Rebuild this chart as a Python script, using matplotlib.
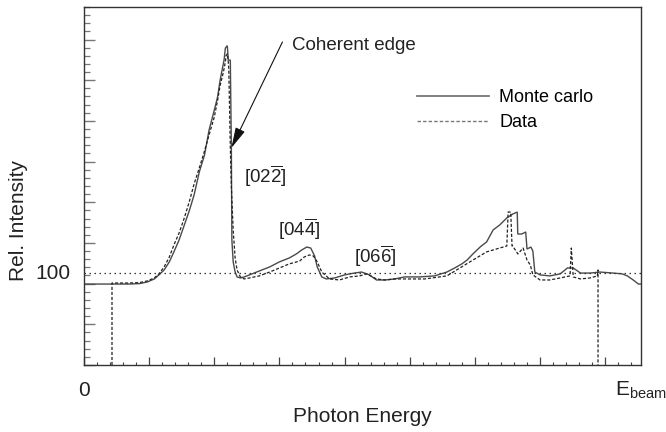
import matplotlib
matplotlib.use("Agg")
import matplotlib.pyplot as plt
from matplotlib.ticker import MultipleLocator
from matplotlib.lines import Line2D

plt.rcParams["font.family"] = ["Liberation Sans", "DejaVu Sans"]
plt.rcParams["mathtext.fontset"] = "custom"
plt.rcParams["mathtext.rm"] = "Liberation Sans"
plt.rcParams["mathtext.it"] = "Liberation Sans:italic"
plt.rcParams["mathtext.bf"] = "Liberation Sans:bold"

# photon energy in units of the major tick spacing, E_beam at the right edge
E_BEAM = 8.55

# Monte carlo (solid)
mc_x = [0.0, 0.43, 0.69, 0.85, 0.97, 1.08, 1.15, 1.23, 1.31, 1.38, 1.46, 1.54, 1.62,
        1.69, 1.77, 1.85, 1.92, 2.0, 2.05, 2.09, 2.12, 2.15, 2.17, 2.2, 2.215, 2.246,
        2.262, 2.27, 2.29, 2.32, 2.35, 2.4, 2.46, 2.54, 2.69, 2.85, 3.0, 3.15, 3.26,
        3.34, 3.42, 3.48, 3.54, 3.58, 3.65, 3.72, 3.85, 4.0, 4.15, 4.26, 4.38, 4.49,
        4.62, 4.77, 4.92, 5.15, 5.38, 5.57, 5.69, 5.8, 5.88, 5.97, 6.08, 6.18, 6.28,
        6.38, 6.49, 6.58, 6.65, 6.658, 6.72, 6.78, 6.8, 6.86, 6.89, 6.92, 7.0, 7.15,
        7.31, 7.42, 7.51, 7.62, 7.77, 7.92, 8.12, 8.26, 8.34, 8.43, 8.51, E_BEAM]
mc_y = [94.8, 94.8, 94.8, 95.0, 95.8, 97.3, 99.3, 101.7, 105.7, 110.6, 116.5, 123.8,
        131.2, 138.6, 149.9, 158.2, 170.5, 180.3, 186.7, 195.1, 200.0, 204.9, 210.8,
        212.0, 204.9, 204.9, 162.2, 116.5, 105.7, 100.7, 98.3, 97.8, 98.3, 99.3, 101.2,
        103.2, 105.7, 107.6, 109.6, 111.5, 113.0, 112.5, 108.6, 103.2, 98.3, 97.3, 97.8,
        99.3, 100.2, 100.7, 99.3, 96.8, 96.8, 97.3, 98.3, 98.3, 98.8, 100.7, 102.7,
        104.7, 106.6, 109.6, 113.0, 115.5, 121.4, 123.8, 127.3, 129.2, 130.2, 119.4,
        119.4, 120.4, 112.0, 113.0, 111.0, 100.7, 99.3, 98.8, 99.8, 102.7, 102.7, 100.2,
        100.2, 100.7, 100.2, 99.8, 98.8, 96.8, 94.8, 94.8]

# Data (dashed)
data_x = [0.43, 0.43, 0.54, 0.69, 0.85, 0.97, 1.08, 1.15, 1.23, 1.31, 1.38, 1.46, 1.54,
          1.62, 1.69, 1.77, 1.85, 1.92, 2.0, 2.05, 2.09, 2.14, 2.17, 2.18, 2.2, 2.215,
          2.223, 2.246, 2.262, 2.29, 2.32, 2.35, 2.4, 2.46, 2.54, 2.69, 2.85, 3.0, 3.15,
          3.31, 3.38, 3.46, 3.52, 3.58, 3.65, 3.77, 3.92, 4.08, 4.23, 4.34, 4.49, 4.62,
          4.77, 5.0, 5.23, 5.57, 5.77, 5.97, 6.18, 6.38, 6.49, 6.51, 6.55, 6.57, 6.58,
          6.66, 6.74, 6.8, 6.85, 6.89, 7.0, 7.15, 7.31, 7.46, 7.48, 7.51, 7.62, 7.77,
          7.88, 7.89, 7.89]
data_y = [55.0, 95.3, 95.3, 95.3, 95.5, 96.3, 97.8, 99.8, 103.2, 108.1, 114.0, 119.9,
          127.3, 135.7, 144.0, 151.9, 160.2, 168.1, 176.9, 185.0, 192.5, 199.0, 204.0,
          207.0, 208.0, 204.0, 200.0, 162.2, 142.5, 121.4, 107.6, 101.7, 98.3, 97.3,
          97.8, 98.8, 100.7, 102.7, 104.7, 106.1, 108.1, 109.1, 108.6, 105.7, 100.7,
          97.3, 96.8, 98.3, 98.8, 99.8, 97.3, 96.8, 97.3, 97.3, 97.3, 98.8, 102.7, 106.6,
          110.6, 112.5, 113.5, 130.2, 130.2, 113.5, 113.5, 109.6, 112.5, 106.6, 104.2,
          99.3, 96.8, 96.8, 97.8, 98.8, 112.5, 98.3, 97.3, 97.8, 98.8, 101.7, 55.0]

REF_LEVEL = 100
Y_MIN, Y_MAX = 55.0, 231.0

fig = plt.figure(figsize=(6.66, 4.32), dpi=100)
ax = fig.add_axes([0.1261, 0.1551, 0.8364, 0.8287])

ax.plot(mc_x, mc_y, color="#4a4a4a", lw=1.0, solid_joinstyle="miter")
ax.plot(data_x, data_y, color="#222222", lw=0.9, ls=(0, (2.5, 1.5)))
ax.axhline(REF_LEVEL, color="#333333", lw=0.9, ls=(0, (1.2, 2.8)))

ax.set_xlim(0, E_BEAM)
ax.set_ylim(Y_MIN, Y_MAX)

# ticks without labels, pointing inwards
ax.xaxis.set_major_locator(MultipleLocator(1))
ax.xaxis.set_minor_locator(MultipleLocator(0.2))
ax.set_yticks([v for v in range(55, 232, 20)])
ax.set_yticks([v for v in range(55, 232, 4)], minor=True)
ax.tick_params(axis="x", which="both", direction="in", labelbottom=False, color="#444")
ax.tick_params(axis="x", which="major", length=5.5, width=0.9)
ax.tick_params(axis="x", which="minor", length=2.5, width=0.8)
ax.tick_params(axis="y", which="both", direction="in", labelleft=False, color="#777")
ax.tick_params(axis="y", which="major", length=8, width=1.0)
ax.tick_params(axis="y", which="minor", length=4, width=0.9)

for s in ax.spines.values():
    s.set_color("#333333")
    s.set_linewidth(1.0)

# axis text
ax.text(0, -0.072, "0", transform=ax.get_xaxis_transform(), ha="center", va="center",
        fontsize=15, color="#222")
ax.text(E_BEAM, -0.072, r"E$_{\mathrm{beam}}$", transform=ax.get_xaxis_transform(),
        ha="center", va="center", fontsize=15, color="#222")
ax.text(-0.025, REF_LEVEL, "100", transform=ax.get_yaxis_transform(), ha="right",
        va="center", fontsize=15, color="#222")
ax.set_xlabel("Photon Energy", fontsize=15, color="#222")
ax.xaxis.set_label_coords(0.5, -0.118)
ax.set_ylabel("Rel. Intensity", fontsize=15, color="#222")
ax.yaxis.set_label_coords(-0.10, 0.405)

# annotations
ax.annotate("", xy=(2.262, 161.7), xytext=(3.046, 213.8),
            arrowprops=dict(arrowstyle="-|>,head_length=0.9,head_width=0.22", color="#111",
                            lw=0.8, mutation_scale=14, shrinkA=0, shrinkB=0))
ax.text(3.2, 212.3, "Coherent edge", fontsize=13.5, va="center", ha="left", color="#222")
ax.text(2.46, 147.7, r"[02$\overline{2}$]", fontsize=13.5, va="center", ha="left", color="#222")
ax.text(2.98, 121.7, r"[04$\overline{4}$]", fontsize=13.5, va="center", ha="left", color="#222")
ax.text(4.14, 108.4, r"[06$\overline{6}$]", fontsize=13.5, va="center", ha="left", color="#222")

handles = [Line2D([], [], color="#777777", lw=1.3),
           Line2D([], [], color="#777777", lw=1.0, ls=(0, (2.5, 1.5)))]
ax.legend(handles, ["Monte carlo", "Data"], loc="upper left", bbox_to_anchor=(0.598, 0.77),
          frameon=False, fontsize=13, borderpad=0, handlelength=4.0, handletextpad=0.55,
          labelspacing=0.45, borderaxespad=0)

fig.savefig("out.png", dpi=100)
